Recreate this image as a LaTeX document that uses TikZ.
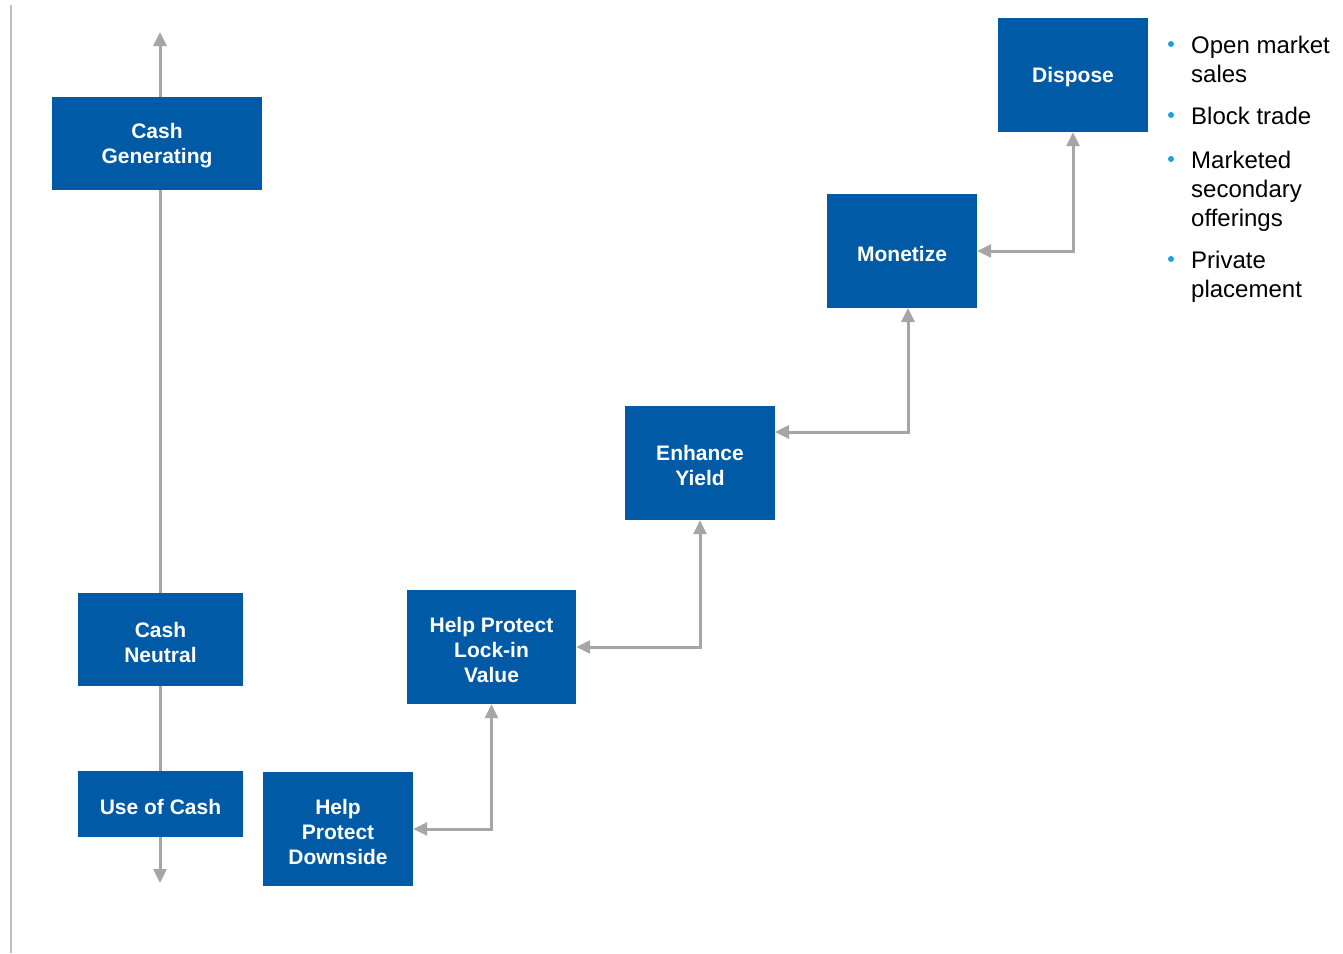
\documentclass[tikz,border=0pt]{standalone}
\usepackage{fontspec}
\setmainfont{Liberation Sans}
\usetikzlibrary{arrows.meta}
\definecolor{boxblue}{HTML}{005AA5}
\definecolor{arrgrey}{HTML}{A6A6A6}
\definecolor{rulegrey}{HTML}{C0C0C0}
\definecolor{dotblue}{HTML}{1BA1E2}
\begin{document}
\begin{tikzpicture}[x=1pt,y=-1pt,
  box/.style={fill=boxblue,draw=none,inner sep=0pt},
  boxtext/.style={text=white,inner sep=0pt,align=center,yshift=-2.5pt,
    font=\fontsize{21}{25}\selectfont\bfseries},
  conn/.style={draw=arrgrey,line width=3pt,{Triangle[length=14pt,width=13pt]}-{Triangle[length=14pt,width=13pt]}},
  bul/.style={anchor=base west,inner sep=0pt,align=left,font=\fontsize{24}{29}\selectfont},
  dot/.style={circle,fill=dotblue,inner sep=0pt,minimum size=6pt}]
\useasboundingbox (0,0) rectangle (1343,953);
\coordinate (rtop) at (11,5);
\coordinate (rbot) at (11,953);
\draw[rulegrey,line width=2pt] (rtop) -- (rbot);
% axis
\coordinate (atop) at (160,32);
\coordinate (abot) at (160,883);
\draw[conn] (abot) -- (atop);
% boxes
\node[box,minimum width=210pt,minimum height=93pt] (cg) at (157,143.5) {};
\node[box,minimum width=165pt,minimum height=93pt] (cn) at (160.5,639.5) {};
\node[box,minimum width=165pt,minimum height=66pt] (uc) at (160.5,804) {};
\node[box,minimum width=150pt,minimum height=114pt] (hd) at (338,829) {};
\node[box,minimum width=169pt,minimum height=114pt] (lv) at (491.5,647) {};
\node[box,minimum width=150pt,minimum height=114pt] (ey) at (700,463) {};
\node[box,minimum width=150pt,minimum height=114pt] (mo) at (902,251) {};
\node[box,minimum width=150pt,minimum height=114pt] (di) at (1073,75) {};
\node[boxtext] (cgt) at (cg) {Cash\\Generating};
\node[boxtext] (cnt) at (cn) {Cash\\Neutral};
\node[boxtext] (uct) at (uc) {Use of Cash};
\node[boxtext] (hdt) at (hd) {Help\\Protect\\Downside};
\node[boxtext] (lvt) at (lv) {Help Protect\\Lock-in\\Value};
\node[boxtext] (eyt) at (ey) {Enhance\\Yield};
\node[boxtext] (mot) at (mo) {Monetize};
\node[boxtext] (dit) at (di) {Dispose};
% connectors
\coordinate (eyin) at (775,432);
\coordinate (moin) at (908,308);
\draw[conn] (hd.east) -| (lv.south);
\draw[conn] (lv.east) -| (ey.south);
\draw[conn] (eyin) -| (moin);
\draw[conn] (mo.east) -| (di.south);
% bullets
\node[dot] (d1) at (1171,44) {};
\node[dot] (d2) at (1171,115) {};
\node[dot] (d3) at (1171,159) {};
\node[dot] (d4) at (1171,259) {};
\node[bul] (b1) at (1191,82) {Open market\\sales};
\node[bul] (b2) at (1191,124) {Block trade};
\node[bul] (b3) at (1191,226) {Marketed\\secondary\\offerings};
\node[bul] (b4) at (1191,297) {Private\\placement};
\end{tikzpicture}
\end{document}
